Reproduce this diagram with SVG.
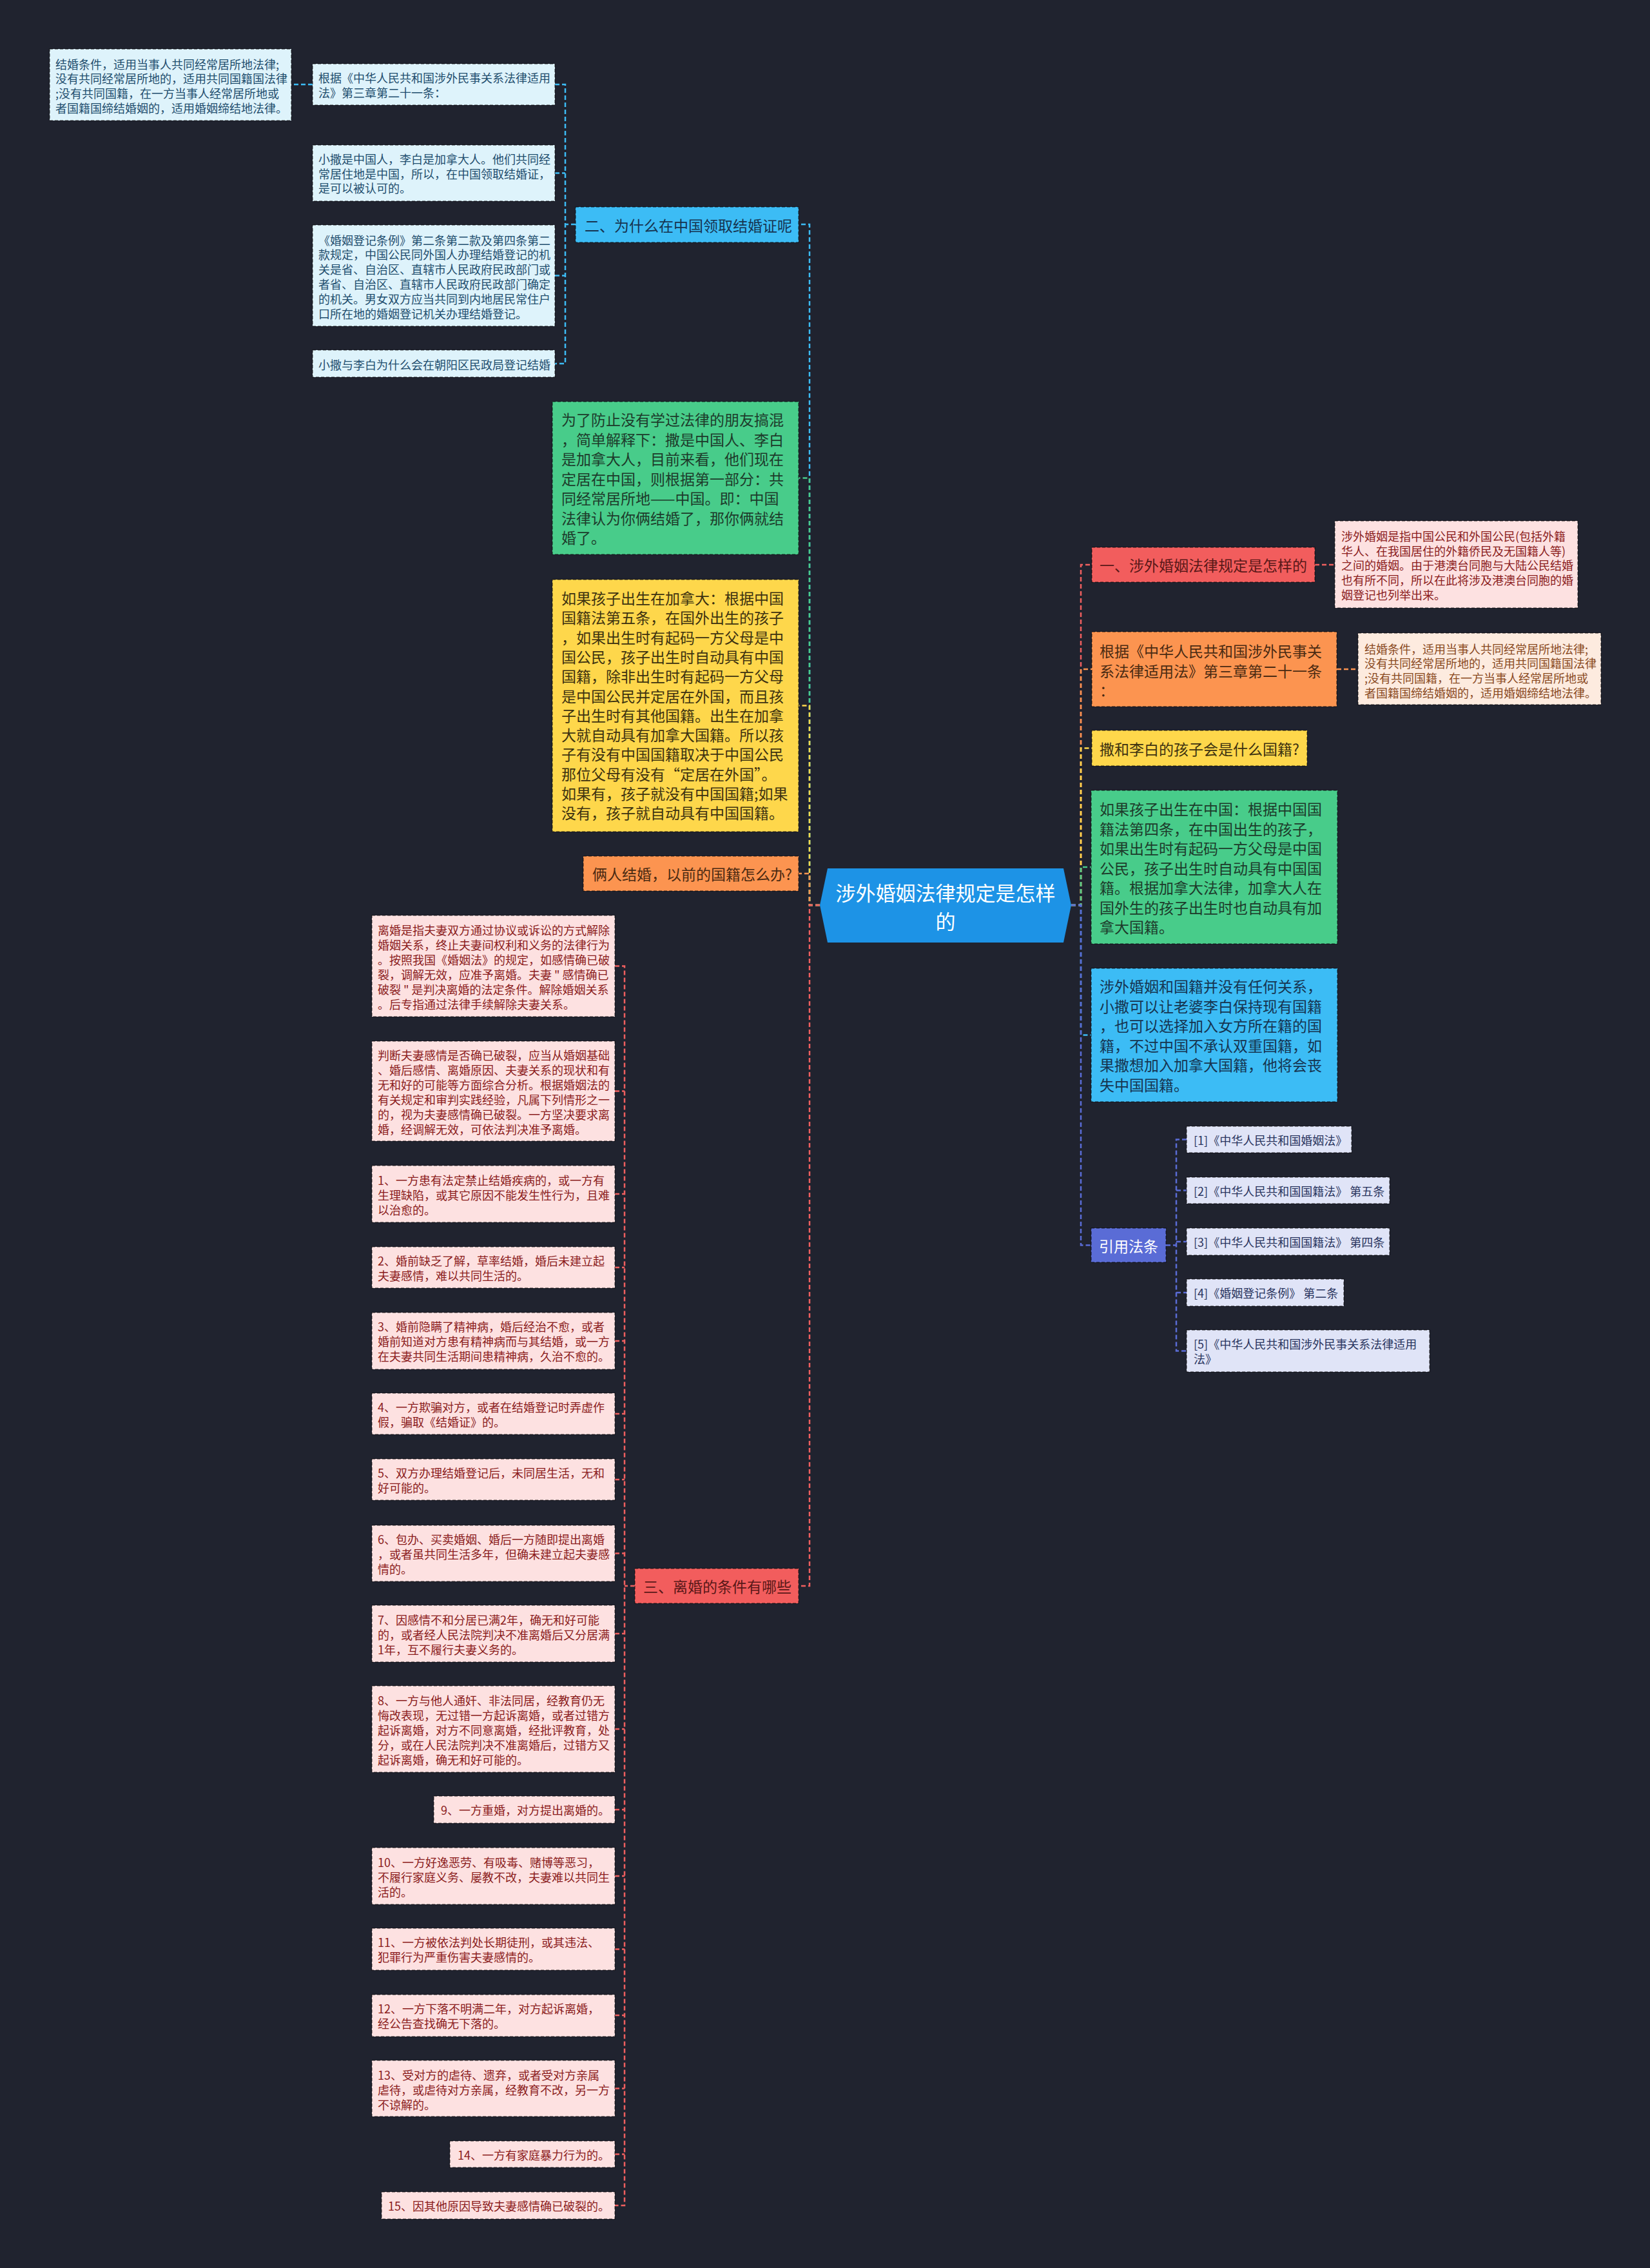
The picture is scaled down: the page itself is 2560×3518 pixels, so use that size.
<svg xmlns="http://www.w3.org/2000/svg" width="2560" height="3518" viewBox="0 0 2560 3518">
<style>
text{font-family:"Noto Sans CJK SC","Noto Sans",sans-serif;dominant-baseline:central}
.s{font-size:18px}
.m{font-size:23px}
.box{stroke:rgba(0,0,0,0.5);stroke-width:1.5;stroke-dasharray:5 3}
.c{fill:none;stroke-width:2.5;stroke-dasharray:7 4}
.cb{stroke:#3cbcf5}.cg{stroke:#48cc8a}.cy{stroke:#fed74b}.co{stroke:#fc9450}.cr{stroke:#ef5f5f}.cp{stroke:#5a6cd6}
.lb{fill:#def3fb}.tlb{fill:#1f4e6e}
.pk{fill:#fde1e1}.tpk{fill:#8b1c1c}
.lo{fill:#fdebdf}.tlo{fill:#8a4a1f}
.lv{fill:#e0e4f7}.tlv{fill:#2a3560}
</style>
<rect x="0" y="0" width="2560" height="3518" fill="#20232f"/>
<g id="connectors">
<path class="c cb" d="M1272,1404 H1256 V348 H1239"/>
<path class="c cg" d="M1272,1404 H1256 V741.5 H1239"/>
<path class="c cy" d="M1272,1404 H1256 V1094.5 H1239"/>
<path class="c co" d="M1272,1404 H1256 V1355 H1239"/>
<path class="c cr" d="M1272,1404 H1256 V2460 H1239"/>
<path class="c cr" d="M1662,1404 H1677 V876 H1694"/>
<path class="c co" d="M1662,1404 H1677 V1038 H1694"/>
<path class="c cy" d="M1662,1404 H1677 V1160.5 H1694"/>
<path class="c cg" d="M1662,1404 H1677 V1345 H1693"/>
<path class="c cb" d="M1662,1404 H1677 V1605.5 H1693"/>
<path class="c cp" d="M1662,1404 H1677 V1931.5 H1693"/>
<path class="c cb" d="M893,348 H877 M861,131 H877 V564 H861 M861,268.5 H877 M861,427.5 H877"/>
<path class="c cb" d="M485,131 H452"/>
<path class="c cr" d="M2040,876 H2071"/>
<path class="c co" d="M2074,1038 H2107"/>
<path class="c cp" d="M1809,1931.5 H1825 M1841,1767.5 H1825 V2095.5 H1841 M1825,1846.5 H1841 M1825,1926 H1841 M1825,2005 H1841"/>
<path class="c cr" d="M985,2460 H969 M954,1498.5 H969 V3421 H954 M954,1692.5 H969 M954,1852 H969 M954,1966 H969 M954,2080 H969 M954,2193 H969 M954,2295 H969 M954,2409.5 H969 M954,2534 H969 M954,2682 H969 M954,2807 H969 M954,2910 H969 M954,3023.5 H969 M954,3126 H969 M954,3239.5 H969 M954,3341.5 H969"/>
</g>
<g id="n-root">
<polygon points="1272,1404 1284,1347 1650,1347 1662,1404 1650,1462 1284,1462" fill="#1d93e6"/>
<text x="1467" text-anchor="middle" fill="#ffffff" style="font-size:31px"><tspan x="1467" y="1383">涉外婚姻法律规定是怎样</tspan><tspan x="1467" y="1427">的</tspan></text>
</g>
<g id="n-er">
<rect class="box" x="893" y="321" width="346" height="55" fill="#3cbcf5"/>
<text class="m" x="907" y="348.5" fill="#163450">二、为什么在中国领取结婚证呢</text>
</g>
<g id="n-a1">
<rect class="box lb" x="77" y="76" width="375" height="111"/>
<text class="s tlb"><tspan x="86" y="98.5">结婚条件，适用当事人共同经常居所地法律;</tspan><tspan x="86" y="121.3">没有共同经常居所地的，适用共同国籍国法律</tspan><tspan x="86" y="144">;没有共同国籍，在一方当事人经常居所地或</tspan><tspan x="86" y="166.8">者国籍国缔结婚姻的，适用婚姻缔结地法律。</tspan></text>
</g>
<g id="n-b1">
<rect class="box lb" x="485" y="99" width="376" height="64"/>
<text class="s tlb"><tspan x="494" y="119.5">根据《中华人民共和国涉外民事关系法律适用</tspan><tspan x="494" y="142.5">法》第三章第二十一条：</tspan></text>
</g>
<g id="n-b2">
<rect class="box lb" x="485" y="225" width="376" height="87"/>
<text class="s tlb"><tspan x="494" y="246">小撒是中国人，李白是加拿大人。他们共同经</tspan><tspan x="494" y="268.6">常居住地是中国，所以，在中国领取结婚证，</tspan><tspan x="494" y="291.2">是可以被认可的。</tspan></text>
</g>
<g id="n-b3">
<rect class="box lb" x="485" y="349" width="376" height="157"/>
<text class="s tlb"><tspan x="494" y="371.5">《婚姻登记条例》第二条第二款及第四条第二</tspan><tspan x="494" y="394.3">款规定，中国公民同外国人办理结婚登记的机</tspan><tspan x="494" y="417.1">关是省、自治区、直辖市人民政府民政部门或</tspan><tspan x="494" y="439.9">者省、自治区、直辖市人民政府民政部门确定</tspan><tspan x="494" y="462.7">的机关。男女双方应当共同到内地居民常住户</tspan><tspan x="494" y="485.5">口所在地的婚姻登记机关办理结婚登记。</tspan></text>
</g>
<g id="n-b4">
<rect class="box lb" x="485" y="543" width="376" height="42"/>
<text class="s tlb" x="494" y="564.5">小撒与李白为什么会在朝阳区民政局登记结婚</text>
</g>
<g id="n-green-l">
<rect class="box" x="857" y="623" width="382" height="237" fill="#48cc8a"/>
<text class="m" fill="#1d3b2b"><tspan x="871" y="650">为了防止没有学过法律的朋友搞混</tspan><tspan x="871" y="680.5">，简单解释下：撒是中国人、李白</tspan><tspan x="871" y="711">是加拿大人，目前来看，他们现在</tspan><tspan x="871" y="741.5">定居在中国，则根据第一部分：共</tspan><tspan x="871" y="772">同经常居所地——中国。即：中国</tspan><tspan x="871" y="802.5">法律认为你俩结婚了，那你俩就结</tspan><tspan x="871" y="833">婚了。</tspan></text>
</g>
<g id="n-yellow-l">
<rect class="box" x="857" y="899" width="382" height="391" fill="#fed74b"/>
<text class="m" fill="#3d3210"><tspan x="871" y="927">如果孩子出生在加拿大：根据中国</tspan><tspan x="871" y="957.3">国籍法第五条，在国外出生的孩子</tspan><tspan x="871" y="987.6">，如果出生时有起码一方父母是中</tspan><tspan x="871" y="1017.9">国公民，孩子出生时自动具有中国</tspan><tspan x="871" y="1048.2">国籍，除非出生时有起码一方父母</tspan><tspan x="871" y="1078.5">是中国公民并定居在外国，而且孩</tspan><tspan x="871" y="1108.8">子出生时有其他国籍。出生在加拿</tspan><tspan x="871" y="1139.1">大就自动具有加拿大国籍。所以孩</tspan><tspan x="871" y="1169.4">子有没有中国国籍取决于中国公民</tspan><tspan x="871" y="1199.7">那位父母有没有“定居在外国”。</tspan><tspan x="871" y="1230">如果有，孩子就没有中国国籍;如果</tspan><tspan x="871" y="1260.3">没有，孩子就自动具有中国国籍。</tspan></text>
</g>
<g id="n-orange-l">
<rect class="box" x="905" y="1328" width="334" height="54" fill="#fc9450"/>
<text class="m" x="919" y="1355" fill="#4a2a12">俩人结婚，以前的国籍怎么办?</text>
</g>
<g id="n-san">
<rect class="box" x="985" y="2433" width="254" height="54" fill="#f25d5d"/>
<text class="m" x="998" y="2460" fill="#5a1818">三、离婚的条件有哪些</text>
</g>
<g id="n-yi">
<rect class="box" x="1694" y="849" width="346" height="54" fill="#f25d5d"/>
<text class="m" x="1706" y="876" fill="#5a1818">一、涉外婚姻法律规定是怎样的</text>
</g>
<g id="n-yi-c">
<rect class="box pk" x="2071" y="808" width="377" height="135"/>
<text class="s tpk"><tspan x="2081" y="831">涉外婚姻是指中国公民和外国公民(包括外籍</tspan><tspan x="2081" y="853.7">华人、在我国居住的外籍侨民及无国籍人等)</tspan><tspan x="2081" y="876.4">之间的婚姻。由于港澳台同胞与大陆公民结婚</tspan><tspan x="2081" y="899.1">也有所不同，所以在此将涉及港澳台同胞的婚</tspan><tspan x="2081" y="921.8">姻登记也列举出来。</tspan></text>
</g>
<g id="n-orange-r">
<rect class="box" x="1694" y="980" width="380" height="116" fill="#fc9450"/>
<text class="m" fill="#4a2a12"><tspan x="1706" y="1009">根据《中华人民共和国涉外民事关</tspan><tspan x="1706" y="1039.5">系法律适用法》第三章第二十一条</tspan><tspan x="1706" y="1070">：</tspan></text>
</g>
<g id="n-orange-r-c">
<rect class="box lo" x="2107" y="982" width="377" height="111"/>
<text class="s tlo"><tspan x="2117" y="1005.5">结婚条件，适用当事人共同经常居所地法律;</tspan><tspan x="2117" y="1028.2">没有共同经常居所地的，适用共同国籍国法律</tspan><tspan x="2117" y="1050.9">;没有共同国籍，在一方当事人经常居所地或</tspan><tspan x="2117" y="1073.6">者国籍国缔结婚姻的，适用婚姻缔结地法律。</tspan></text>
</g>
<g id="n-yellow-r">
<rect class="box" x="1694" y="1133" width="334" height="55" fill="#fed74b"/>
<text class="m" x="1706" y="1160.5" fill="#3d3210">撒和李白的孩子会是什么国籍?</text>
</g>
<g id="n-green-r">
<rect class="box" x="1693" y="1226" width="382" height="238" fill="#48cc8a"/>
<text class="m" fill="#1d3b2b"><tspan x="1706" y="1254">如果孩子出生在中国：根据中国国</tspan><tspan x="1706" y="1284.5">籍法第四条，在中国出生的孩子，</tspan><tspan x="1706" y="1315">如果出生时有起码一方父母是中国</tspan><tspan x="1706" y="1345.5">公民，孩子出生时自动具有中国国</tspan><tspan x="1706" y="1376">籍。根据加拿大法律，加拿大人在</tspan><tspan x="1706" y="1406.5">国外生的孩子出生时也自动具有加</tspan><tspan x="1706" y="1437">拿大国籍。</tspan></text>
</g>
<g id="n-blue-r">
<rect class="box" x="1693" y="1502" width="382" height="207" fill="#3cbcf5"/>
<text class="m" fill="#163450"><tspan x="1706" y="1529">涉外婚姻和国籍并没有任何关系，</tspan><tspan x="1706" y="1559.5">小撒可以让老婆李白保持现有国籍</tspan><tspan x="1706" y="1590">，也可以选择加入女方所在籍的国</tspan><tspan x="1706" y="1620.5">籍，不过中国不承认双重国籍，如</tspan><tspan x="1706" y="1651">果撒想加入加拿大国籍，他将会丧</tspan><tspan x="1706" y="1681.5">失中国国籍。</tspan></text>
</g>
<g id="n-refs">
<rect class="box" x="1693" y="1905" width="116" height="53" fill="#5a6cd6"/>
<text class="m" x="1751" y="1931.5" text-anchor="middle" fill="#ffffff">引用法条</text>
</g>
<g id="n-ref1">
<rect class="box lv" x="1841" y="1747" width="256" height="41"/>
<text class="s tlv" x="1852" y="1767.5">[1]《中华人民共和国婚姻法》</text>
</g>
<g id="n-ref2">
<rect class="box lv" x="1841" y="1826" width="315" height="41"/>
<text class="s tlv" x="1852" y="1846.5">[2]《中华人民共和国国籍法》 第五条</text>
</g>
<g id="n-ref3">
<rect class="box lv" x="1841" y="1905" width="315" height="42"/>
<text class="s tlv" x="1852" y="1926">[3]《中华人民共和国国籍法》 第四条</text>
</g>
<g id="n-ref4">
<rect class="box lv" x="1841" y="1984" width="244" height="42"/>
<text class="s tlv" x="1852" y="2005">[4]《婚姻登记条例》 第二条</text>
</g>
<g id="n-ref5">
<rect class="box lv" x="1841" y="2063" width="377" height="65"/>
<text class="s tlv"><tspan x="1852" y="2084">[5]《中华人民共和国涉外民事关系法律适用</tspan><tspan x="1852" y="2107">法》</tspan></text>
</g>
<g id="n-c1">
<rect class="box pk" x="577" y="1420" width="377" height="157"/>
<text class="s tpk"><tspan x="586" y="1441.5">离婚是指夫妻双方通过协议或诉讼的方式解除</tspan><tspan x="586" y="1464.5">婚姻关系，终止夫妻间权利和义务的法律行为</tspan><tspan x="586" y="1487.5">。按照我国《婚姻法》的规定，如感情确已破</tspan><tspan x="586" y="1510.5">裂，调解无效，应准予离婚。夫妻 " 感情确已</tspan><tspan x="586" y="1533.5">破裂 " 是判决离婚的法定条件。解除婚姻关系</tspan><tspan x="586" y="1556.5">。后专指通过法律手续解除夫妻关系。</tspan></text>
</g>
<g id="n-c2">
<rect class="box pk" x="577" y="1615" width="377" height="155"/>
<text class="s tpk"><tspan x="586" y="1636">判断夫妻感情是否确已破裂，应当从婚姻基础</tspan><tspan x="586" y="1659">、婚后感情、离婚原因、夫妻关系的现状和有</tspan><tspan x="586" y="1682">无和好的可能等方面综合分析。根据婚姻法的</tspan><tspan x="586" y="1705">有关规定和审判实践经验，凡属下列情形之一</tspan><tspan x="586" y="1728">的，视为夫妻感情确已破裂。一方坚决要求离</tspan><tspan x="586" y="1751">婚，经调解无效，可依法判决准予离婚。</tspan></text>
</g>
<g id="n-c3">
<rect class="box pk" x="577" y="1808" width="377" height="88"/>
<text class="s tpk"><tspan x="586" y="1830">1、一方患有法定禁止结婚疾病的，或一方有</tspan><tspan x="586" y="1853">生理缺陷，或其它原因不能发生性行为，且难</tspan><tspan x="586" y="1876">以治愈的。</tspan></text>
</g>
<g id="n-c4">
<rect class="box pk" x="577" y="1934" width="377" height="64"/>
<text class="s tpk"><tspan x="586" y="1955">2、婚前缺乏了解，草率结婚，婚后未建立起</tspan><tspan x="586" y="1978">夫妻感情，难以共同生活的。</tspan></text>
</g>
<g id="n-c5">
<rect class="box pk" x="577" y="2036" width="377" height="88"/>
<text class="s tpk"><tspan x="586" y="2057">3、婚前隐瞒了精神病，婚后经治不愈，或者</tspan><tspan x="586" y="2080">婚前知道对方患有精神病而与其结婚，或一方</tspan><tspan x="586" y="2103">在夫妻共同生活期间患精神病，久治不愈的。</tspan></text>
</g>
<g id="n-c6">
<rect class="box pk" x="577" y="2161" width="377" height="64"/>
<text class="s tpk"><tspan x="586" y="2182">4、一方欺骗对方，或者在结婚登记时弄虚作</tspan><tspan x="586" y="2205">假，骗取《结婚证》的。</tspan></text>
</g>
<g id="n-c7">
<rect class="box pk" x="577" y="2263" width="377" height="64"/>
<text class="s tpk"><tspan x="586" y="2284">5、双方办理结婚登记后，未同居生活，无和</tspan><tspan x="586" y="2307">好可能的。</tspan></text>
</g>
<g id="n-c8">
<rect class="box pk" x="577" y="2366" width="377" height="87"/>
<text class="s tpk"><tspan x="586" y="2387">6、包办、买卖婚姻、婚后一方随即提出离婚</tspan><tspan x="586" y="2410">，或者虽共同生活多年，但确未建立起夫妻感</tspan><tspan x="586" y="2433">情的。</tspan></text>
</g>
<g id="n-c9">
<rect class="box pk" x="577" y="2490" width="377" height="88"/>
<text class="s tpk"><tspan x="586" y="2512">7、因感情不和分居已满2年，确无和好可能</tspan><tspan x="586" y="2535">的，或者经人民法院判决不准离婚后又分居满</tspan><tspan x="586" y="2558">1年，互不履行夫妻义务的。</tspan></text>
</g>
<g id="n-c10">
<rect class="box pk" x="577" y="2615" width="377" height="134"/>
<text class="s tpk"><tspan x="586" y="2637">8、一方与他人通奸、非法同居，经教育仍无</tspan><tspan x="586" y="2660">悔改表现，无过错一方起诉离婚，或者过错方</tspan><tspan x="586" y="2683">起诉离婚，对方不同意离婚，经批评教育，处</tspan><tspan x="586" y="2706">分，或在人民法院判决不准离婚后，过错方又</tspan><tspan x="586" y="2729">起诉离婚，确无和好可能的。</tspan></text>
</g>
<g id="n-c11">
<rect class="box pk" x="673" y="2786" width="281" height="42"/>
<text class="s tpk" x="684" y="2807">9、一方重婚，对方提出离婚的。</text>
</g>
<g id="n-c12">
<rect class="box pk" x="577" y="2866" width="377" height="88"/>
<text class="s tpk"><tspan x="586" y="2888">10、一方好逸恶劳、有吸毒、赌博等恶习，</tspan><tspan x="586" y="2911">不履行家庭义务、屡教不改，夫妻难以共同生</tspan><tspan x="586" y="2934">活的。</tspan></text>
</g>
<g id="n-c13">
<rect class="box pk" x="577" y="2991" width="377" height="65"/>
<text class="s tpk"><tspan x="586" y="3012">11、一方被依法判处长期徒刑，或其违法、</tspan><tspan x="586" y="3035">犯罪行为严重伤害夫妻感情的。</tspan></text>
</g>
<g id="n-c14">
<rect class="box pk" x="577" y="3094" width="377" height="65"/>
<text class="s tpk"><tspan x="586" y="3115">12、一方下落不明满二年，对方起诉离婚，</tspan><tspan x="586" y="3138">经公告查找确无下落的。</tspan></text>
</g>
<g id="n-c15">
<rect class="box pk" x="577" y="3196" width="377" height="87"/>
<text class="s tpk"><tspan x="586" y="3218">13、受对方的虐待、遗弃，或者受对方亲属</tspan><tspan x="586" y="3241">虐待，或虐待对方亲属，经教育不改，另一方</tspan><tspan x="586" y="3264">不谅解的。</tspan></text>
</g>
<g id="n-c16">
<rect class="box pk" x="698" y="3321" width="256" height="41"/>
<text class="s tpk" x="710" y="3342">14、一方有家庭暴力行为的。</text>
</g>
<g id="n-c17">
<rect class="box pk" x="592" y="3400" width="362" height="42"/>
<text class="s tpk" x="602" y="3421">15、因其他原因导致夫妻感情确已破裂的。</text>
</g>
</svg>
